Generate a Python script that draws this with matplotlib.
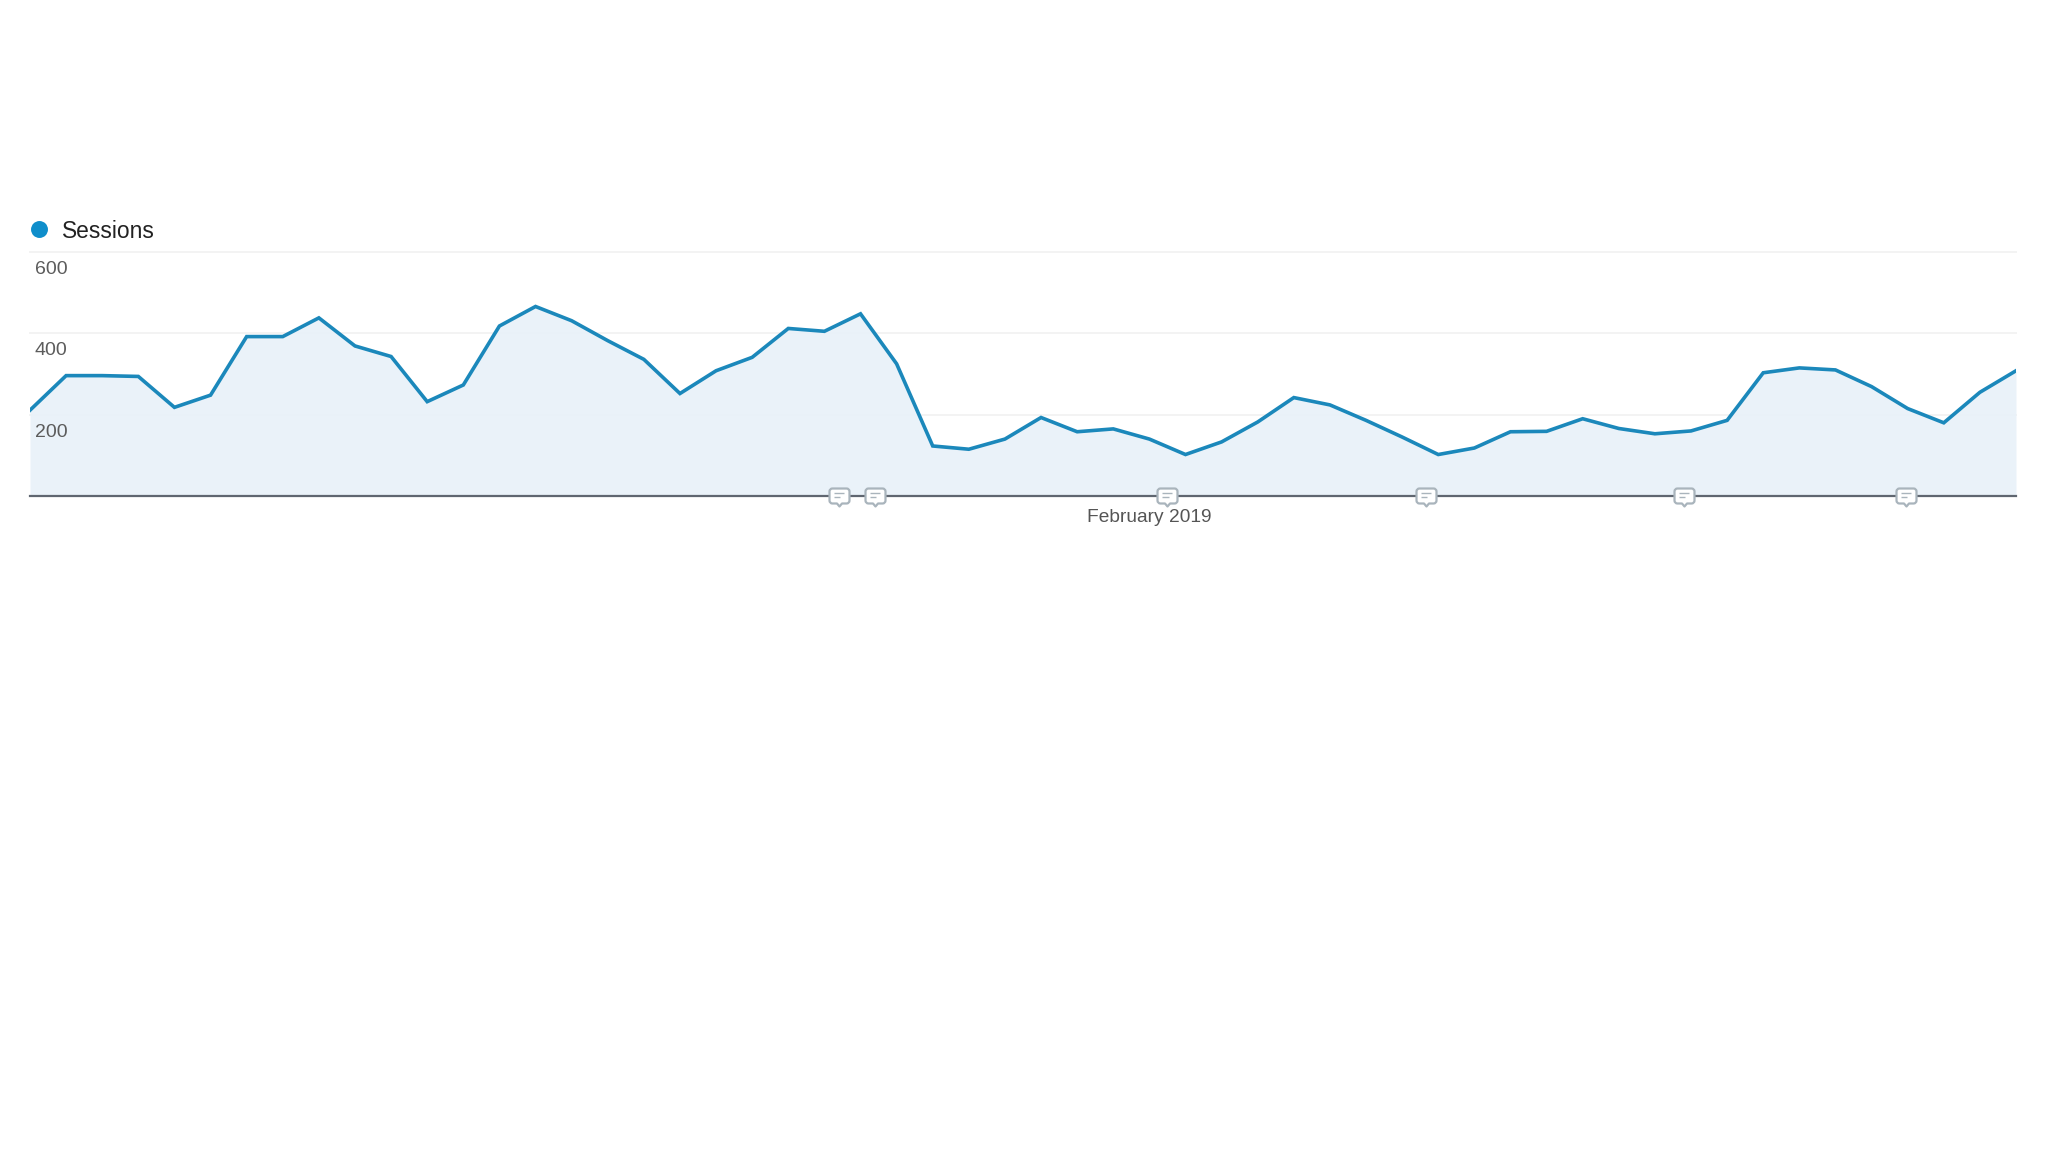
import matplotlib

matplotlib.use("Agg")
import matplotlib.pyplot as plt
import numpy as np
from matplotlib.path import Path

SERIES_NAME = "Sessions"
sessions = [
    211, 296, 296, 294, 218, 248, 392, 392, 438, 369, 343, 232, 273, 418,
    466, 431, 382, 336, 252, 308, 341, 412, 405, 448, 325, 123, 115, 140,
    193, 158, 165, 140, 102, 133, 182, 242, 224, 186, 145, 102, 118, 158,
    159, 190, 166, 153, 160, 186, 303, 315, 310, 269, 215, 180, 255, 308,
]
y_ticks = [200, 400, 600]
x_tick_pos = [31]
x_tick_labels = ["February 2019"]
# days carrying an annotation bubble
note_days = [22.4, 23.4, 31.5, 38.65, 45.8, 51.95]

LINE = "#1b88bb"
FILL = "#e8f1f9"
GRID = "#f3f3f3"
BASE = "#5f6670"
NOTE = "#a9b4bc"
W, H = 2048, 1152

plt.rcParams["font.family"] = ["Liberation Sans", "DejaVu Sans"]


def bubble_marker() -> Path:
    # rounded box with a small tail underneath
    verts = [
        (-0.7, -0.7), (-1.0, -0.7), (-1.0, -0.4), (-1.0, 0.5), (-1.0, 0.8), (-0.7, 0.8),
        (0.7, 0.8), (1.0, 0.8), (1.0, 0.5), (1.0, -0.4), (1.0, -0.7), (0.7, -0.7),
        (0.25, -0.7), (0.0, -1.0), (-0.25, -0.7), (-0.7, -0.7),
    ]
    codes = [
        Path.MOVETO, Path.CURVE3, Path.CURVE3, Path.LINETO, Path.CURVE3, Path.CURVE3,
        Path.LINETO, Path.CURVE3, Path.CURVE3, Path.LINETO, Path.CURVE3, Path.CURVE3,
        Path.LINETO, Path.LINETO, Path.LINETO, Path.CLOSEPOLY,
    ]
    return Path(verts, codes)


def bubble_lines_marker() -> Path:
    # text lines inside the bubble; the zero-length last piece keeps the marker scale
    verts = [(-0.5, 0.3), (0.5, 0.3), (-0.5, -0.1), (0.15, -0.1), (1.0, 0.0), (1.0, 0.0)]
    codes = [Path.MOVETO, Path.LINETO, Path.MOVETO, Path.LINETO, Path.MOVETO, Path.LINETO]
    return Path(verts, codes)


def main() -> None:
    days = np.arange(len(sessions))

    fig = plt.figure(figsize=(W / 100, H / 100), dpi=100, facecolor="white")
    ax = fig.add_axes([30 / W, 1 - 496 / H, 1986 / W, 244 / H])
    ax.set_xlim(0, len(sessions) - 1)
    ax.set_ylim(0, 600)

    for tick in y_ticks:
        ax.axhline(tick, color=GRID, lw=1.4, zorder=1, clip_on=False)
        ax.annotate(str(tick), (0, tick), xytext=(3.3, -12.5), textcoords="offset points",
                    ha="left", va="center", fontsize=14, color="#5c5c5c", zorder=5)

    ax.fill_between(days, sessions, 0, color=FILL, alpha=0.9, lw=0, zorder=2)
    ax.plot(days, sessions, color=LINE, lw=2.6, solid_joinstyle="miter", zorder=3)

    for spine in ("top", "left", "right"):
        ax.spines[spine].set_visible(False)
    ax.spines["bottom"].set_color(BASE)
    ax.spines["bottom"].set_linewidth(1.6)

    ax.set_yticks([])
    ax.set_xticks(x_tick_pos, x_tick_labels, fontsize=13.8, color="#555555")
    ax.tick_params(axis="x", length=0, pad=9)

    note_y = np.zeros(len(note_days))
    ax.scatter(note_days, note_y, marker=bubble_marker(), s=207,
               facecolor="white", edgecolor=NOTE, linewidth=1.6, zorder=6, clip_on=False)
    ax.scatter(note_days, note_y, marker=bubble_lines_marker(), s=207,
               facecolor="none", edgecolor=NOTE, linewidth=1.0, zorder=7, clip_on=False)

    # legend above the plot
    fig.add_artist(plt.Line2D([38.5 / W], [1 - 229 / H], marker="o", ms=12.2,
                              mfc="#0f8ecb", mec="none", ls=""))
    fig.text(62 / W, 1 - 231 / H, SERIES_NAME, fontsize=16.4, color="#222222",
             ha="left", va="center")

    fig.savefig("out.png", dpi=100)
    plt.close(fig)


if __name__ == "__main__":
    main()
